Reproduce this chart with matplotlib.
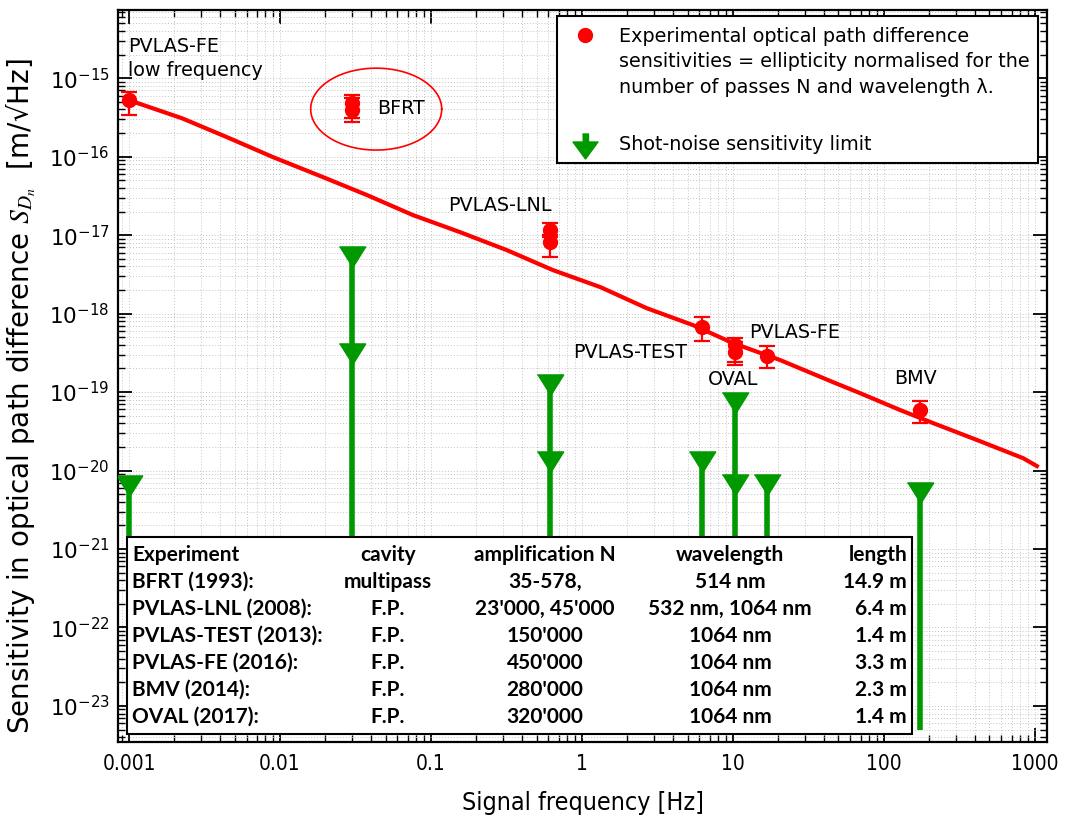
import numpy as np
import matplotlib
matplotlib.use("Agg")
import matplotlib.pyplot as plt
from matplotlib.patches import Rectangle
from matplotlib.ticker import NullFormatter, FixedLocator, FixedFormatter, LogLocator

RED = "#ff0000"
GREEN = "#009900"

# PVLAS-FE sensitivity curve (Hz, m/sqrt(Hz))
curve_f = [0.001, 0.00224, 0.00446, 0.0090, 0.0193, 0.0377, 0.076, 0.156,
           0.318, 0.643, 1.32, 2.69, 5.43, 10.0, 20.5, 45.9, 69.3, 128,
           211, 413, 833, 1030]
curve_s = [5.25e-16, 3.09e-16, 1.77e-16, 9.86e-17, 5.48e-17, 3.24e-17, 1.80e-17,
           1.09e-17, 6.44e-18, 3.58e-18, 2.18e-18, 1.17e-18, 7.14e-19, 4.21e-19,
           2.56e-19, 1.34e-19, 9.7e-20, 5.9e-20, 4.03e-20, 2.45e-20, 1.44e-20,
           1.14e-20]

# measured optical path difference sensitivities with error bars
exp_f = [0.001, 0.030, 0.030, 0.61, 0.61, 6.2, 10.3, 10.3, 16.8, 173]
exp_s = [5.2e-16, 4.8e-16, 3.9e-16, 1.16e-17, 8.1e-18, 6.7e-19, 4.0e-19,
         3.2e-19, 2.9e-19, 5.9e-20]
exp_hi = [6.6e-16, 6.1e-16, 5.6e-16, 1.42e-17, 1.0e-17, 9.0e-19, 4.9e-19,
          4.4e-19, 3.85e-19, 7.7e-20]
exp_lo = [3.4e-16, 3.1e-16, 2.75e-16, 9.5e-18, 5.25e-18, 4.5e-19, 2.4e-19,
          2.2e-19, 2.0e-19, 4.0e-20]

# shot-noise limits
sn_f = [0.001, 0.03, 0.03, 0.61, 0.61, 6.2, 10.3, 10.3, 16.8, 173]
sn_s = [6.3e-21, 5.2e-18, 3.1e-19, 1.23e-19, 1.3e-20, 1.3e-20, 7.2e-20,
        6.5e-21, 6.5e-21, 5.2e-21]
sn_floor = 5e-24

# experiment labels: name, anchor (f, s), offset in pixels
labels = [
    ("PVLAS-FE\nlow frequency", 0.001, 5.2e-16, -1, 42, "left"),
    ("BFRT", 0.030, 4.3e-16, 25, -2, "left"),
    ("PVLAS-LNL", 0.61, 1.16e-17, -50, 25, "center"),
    ("PVLAS-TEST", 6.2, 6.7e-19, -71, -25, "center"),
    ("PVLAS-FE", 16.8, 2.9e-19, 28, 23, "center"),
    ("OVAL", 10.3, 4.0e-19, -2, -35, "center"),
    ("BMV", 173, 5.9e-20, -4, 32, "center"),
]

table_header = ["Experiment", "cavity", "amplification N", "wavelength", "length"]
table_rows = [
    ["BFRT (1993):", "multipass", "35-578,", "514 nm", "14.9 m"],
    ["PVLAS-LNL (2008):", "F.P.", "23'000, 45'000", "532 nm, 1064 nm", "6.4 m"],
    ["PVLAS-TEST (2013):", "F.P.", "150'000", "1064 nm", "1.4 m"],
    ["PVLAS-FE (2016):", "F.P.", "450'000", "1064 nm", "3.3 m"],
    ["BMV (2014):", "F.P.", "280'000", "1064 nm", "2.3 m"],
    ["OVAL (2017):", "F.P.", "320'000", "1064 nm", "1.4 m"],
]

plt.rcParams["font.family"] = ["DejaVu Sans"]

fig = plt.figure(figsize=(10.65, 8.16), dpi=100)
ax = fig.add_axes([0.1108, 0.0907, 0.8723, 0.8971])
ax.set_xscale("log")
ax.set_yscale("log")
ax.set_xlim(10**-3.073, 10**3.08)
ax.set_ylim(10**-23.46, 10**-14.13)

ax.grid(True, which="both", ls=(0, (1, 2)), lw=0.7, color="#c4c4c4", zorder=0)
ax.set_axisbelow(True)

# sensitivity curve
ax.plot(curve_f, curve_s, color=RED, lw=3, zorder=4)

# shot-noise arrows: stem from the highest limit down, triangle at each limit
sn_arr_f = np.array(sn_f)
sn_arr_s = np.array(sn_s)
for f in sorted(set(sn_f)):
    top = sn_arr_s[sn_arr_f == f].max()
    ax.plot([f, f], [sn_floor, top], color=GREEN, lw=4, solid_capstyle="butt",
            zorder=3)
tri = [(-1, 0.8), (1, 0.8), (0, -0.8)]
ax.plot(sn_f, sn_s, ls="none", marker=tri, ms=19, color=GREEN, zorder=3)

# experimental points
s = np.array(exp_s)
yerr = [s - np.array(exp_lo), np.array(exp_hi) - s]
ax.errorbar(exp_f, exp_s, yerr=yerr, fmt="o", ms=10, color=RED, ecolor=RED,
            elinewidth=1.6, capsize=6, capthick=1.6, zorder=6)

# ring around the BFRT measurement
t = np.linspace(0, 2 * np.pi, 300)
cx = np.log10(exp_f[1]) + 0.16
cy = np.log10(np.sqrt(exp_s[1] * exp_s[2])) - 0.03
ax.plot(10**(cx + 0.434 * np.cos(t)), 10**(cy + 0.522 * np.sin(t)),
        color=RED, lw=1.2, zorder=4)

for text, f, v, dx, dy, ha in labels:
    ax.annotate(text, (f, v), xytext=(dx * 0.72, dy * 0.72),
                textcoords="offset points", ha=ha, va="center",
                fontsize=13.8, linespacing=1.35, zorder=7)

# axes styling
ax.xaxis.set_major_locator(FixedLocator([1e-3, 1e-2, 1e-1, 1, 10, 100, 1000]))
ax.xaxis.set_major_formatter(FixedFormatter(["0.001", "0.01", "0.1", "1", "10", "100", "1000"]))
ax.xaxis.set_minor_locator(LogLocator(base=10, subs=np.arange(2, 10), numticks=100))
ax.xaxis.set_minor_formatter(NullFormatter())
y_decades = np.arange(-23, -14)
ax.yaxis.set_major_locator(FixedLocator(10.0 ** y_decades))
ax.yaxis.set_major_formatter(FixedFormatter(["$10^{%d}$" % d for d in y_decades]))
ax.yaxis.set_minor_locator(LogLocator(base=10, subs=np.arange(2, 10), numticks=200))
ax.yaxis.set_minor_formatter(NullFormatter())

ax.tick_params(which="both", direction="in", top=True, right=True, color="black")
ax.tick_params(which="major", length=10, width=1.3)
ax.tick_params(which="minor", length=5, width=1.0)
ax.tick_params(axis="x", which="major", pad=9, labelsize=15)
ax.tick_params(axis="y", which="major", pad=6, labelsize=15.5)
for lab in ax.get_xticklabels():
    lab.set_fontstretch("condensed")
for sp in ax.spines.values():
    sp.set_linewidth(1.6)

ax.set_xlabel("Signal frequency [Hz]", fontsize=18, fontstretch="condensed", labelpad=12)
ax.set_ylabel("Sensitivity in optical path difference $S_{D_n}$  [m/\u221aHz]",
              fontsize=20, math_fontfamily="stix")
ax.yaxis.set_label_coords(-0.086, 0.472)

# legend box
tr = ax.transAxes
ax.add_patch(Rectangle((0.4726, 0.791), 0.5177, 0.2008, transform=tr,
                       fc="white", ec="black", lw=1.5, zorder=8))
ax.plot([0.5027], [0.9658], "o", ms=10, color=RED, transform=tr, zorder=9,
        clip_on=False)
ax.text(0.5393, 0.929,
        "Experimental optical path difference\n"
        "sensitivities = ellipticity normalised for the\n"
        "number of passes N and wavelength \u03bb.",
        transform=tr, ha="left", va="center", fontsize=13.8, linespacing=1.42,
        zorder=9)
arrow = [(-0.12, 0.5), (0.12, 0.5), (0.12, 0.18), (0.5, 0.18), (0, -0.5),
         (-0.5, 0.18), (-0.12, 0.18)]
ax.plot([0.5027], [0.8145], ls="none", marker=arrow, ms=18, color=GREEN,
        transform=tr, zorder=9, clip_on=False)
ax.text(0.5393, 0.8165, "Shot-noise sensitivity limit", transform=tr,
        ha="left", va="center", fontsize=13.8, zorder=9)

# experiment table
ax.add_patch(Rectangle((0.0097, 0.0109), 0.845, 0.2691, transform=tr,
                       fc="white", ec="black", lw=1.5, zorder=8))
col_x = [0.0151, 0.2906, 0.4596, 0.6588, 0.8493]
col_ha = ["left", "center", "center", "center", "right"]
row_y0 = 0.2555
row_dy = 0.0369
for i, row in enumerate([table_header] + table_rows):
    for x, ha, cell in zip(col_x, col_ha, row):
        ax.text(x, row_y0 - i * row_dy, cell, transform=tr, ha=ha, va="center",
                fontsize=15, fontweight="bold", family=["Lato", "DejaVu Sans"],
                zorder=9)

fig.savefig("out.png", dpi=100)
